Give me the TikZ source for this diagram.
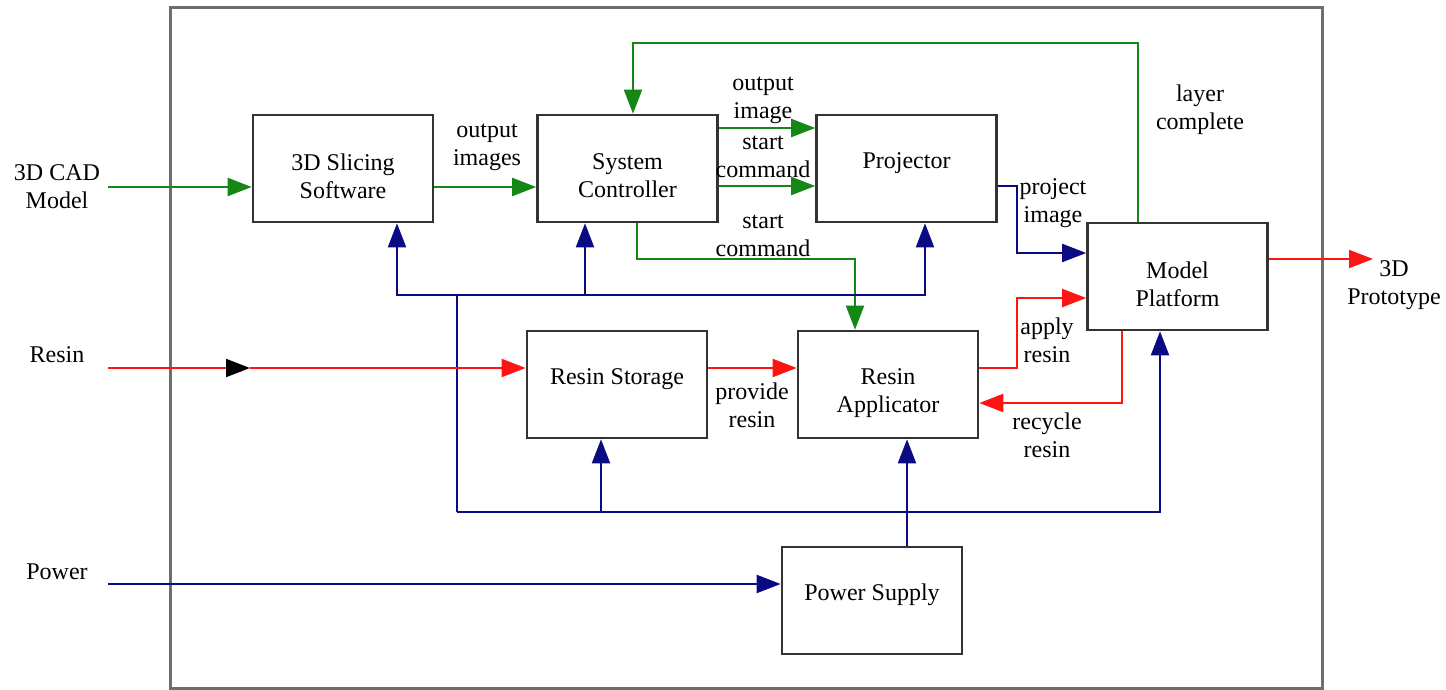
\documentclass[tikz,border=0pt]{standalone}
\usepackage{fontspec}
\setmainfont{Liberation Serif}
\usetikzlibrary{arrows.meta}
\definecolor{gr}{RGB}{20,135,20}
\definecolor{nv}{RGB}{10,10,130}
\definecolor{rd}{RGB}{255,20,20}
\definecolor{fr}{RGB}{110,110,110}
\begin{document}
\begin{tikzpicture}[x=0.5pt,y=-0.5pt, font=\fontsize{12}{14}\selectfont,
  box/.style={draw=black!80, line width=1.3pt, minimum width=90pt, minimum height=53.5pt, inner sep=0pt},
  txt/.style={align=center, inner sep=0pt},
  tip/.style={-{Triangle[length=12pt,width=9pt]}},
  con/.style={line width=1pt, tip},
  g/.style={con, draw=gr},
  b/.style={con, draw=nv},
  r/.style={con, draw=rd},
  bl/.style={line width=1pt, draw=nv}]
\useasboundingbox (0,0) rectangle (1446,690);
\node[draw=fr, line width=1.5pt, minimum width=576pt, minimum height=340pt, inner sep=0pt] (frame) at (746,348) {};

% boxes
\node[box] (slice) at (343,168.5) {};
\node[box] (ctrl) at (627.5,168.5) {};
\node[box] (proj) at (906.5,168.5) {};
\node[box] (plat) at (1177.5,276.5) {};
\node[box] (stor) at (617,384.5) {};
\node[box] (appl) at (888,384.5) {};
\node[box] (pow) at (872,600.5) {};

\node[txt] (sliceT) at (343,176) {3D Slicing\\Software};
\node[txt] (ctrlT) at (627.5,176) {System\\Controller};
\node[txt] (projT) at (906.5,163) {Projector};
\node[txt] (platT) at (1177.5,284) {Model\\Platform};
\node[txt] (storT) at (617,379) {Resin Storage};
\node[txt] (applT) at (888,393) {Resin\\Applicator};
\node[txt] (powT) at (872,595) {Power Supply};

% outside labels
\node[txt] (cad) at (57,187) {3D CAD\\Model};
\node[txt] (resin) at (57,355) {Resin};
\node[txt] (power) at (57,572) {Power};
\node[txt] (proto) at (1394,285) {3D\\Prototype};

% connector labels
\node[txt] (l1) at (487,147) {output\\images};
\node[txt] (l2) at (763,100) {output\\image};
\node[txt] (l3) at (763,157) {start\\command};
\node[txt] (l4) at (763,236) {start\\command};
\node[txt] (l5) at (1200,110) {layer\\complete};
\node[txt] (l6) at (1053,203) {project\\image};
\node[txt] (l7) at (752,405) {provide\\resin};
\node[txt] (l8) at (1047,340) {apply\\resin};
\node[txt] (l9) at (1047,435) {recycle\\resin};

\coordinate (cadS) at (108,187);
\coordinate (rsS) at (108,368);
\coordinate (rsM) at (250,368);
\coordinate (pwS) at (108,584);
\coordinate (protoE) at (1373,259);
\coordinate (busA) at (457,295);
\coordinate (busB) at (457,512);

% green
\draw[g] (cadS) -- (cadS -| slice.west);
\draw[g] (slice.east |- 0,187) -- (ctrl.west |- 0,187);
\draw[g] (ctrl.east |- 0,128) -- (proj.west |- 0,128);
\draw[g] (ctrl.east |- 0,186) -- (proj.west |- 0,186);
\draw[g] (ctrl.south -| 637,0) |- (855,259) -- (appl.north -| 855,0);
\draw[g] (plat.north -| 1138,0) -- (1138,43) -| (ctrl.north -| 633,0);

% blue
\draw[b] (proj.east |- 0,186) -- (1017,186) |- (plat.west |- 0,253);
\draw[bl] (busA) -- (busB);
\draw[b] (busA) -| (slice.south -| 397,0);
\draw[b] (busA) -| (ctrl.south -| 585,0);
\draw[b] (busA) -| (proj.south -| 925,0);
\draw[b] (busB) -| (stor.south -| 601,0);
\draw[b] (busB) -| (plat.south -| 1160,0);
\draw[b] (pow.north -| 907,0) -- (appl.south -| 907,0);
\draw[b] (pwS) -- (pwS -| pow.west);

% red
\draw[line width=1pt, draw=rd, -{Triangle[length=12pt,width=9pt,black]}] (rsS) -- (rsM);
\draw[r] (rsM) -- (rsM -| stor.west);
\draw[r] (stor.east |- 0,368) -- (appl.west |- 0,368);
\draw[r] (appl.east |- 0,368) -- (1017,368) |- (plat.west |- 0,298);
\draw[r] (plat.south -| 1122,0) |- (appl.east |- 0,403);
\draw[r] (plat.east |- protoE) -- (protoE);
\end{tikzpicture}
\end{document}
